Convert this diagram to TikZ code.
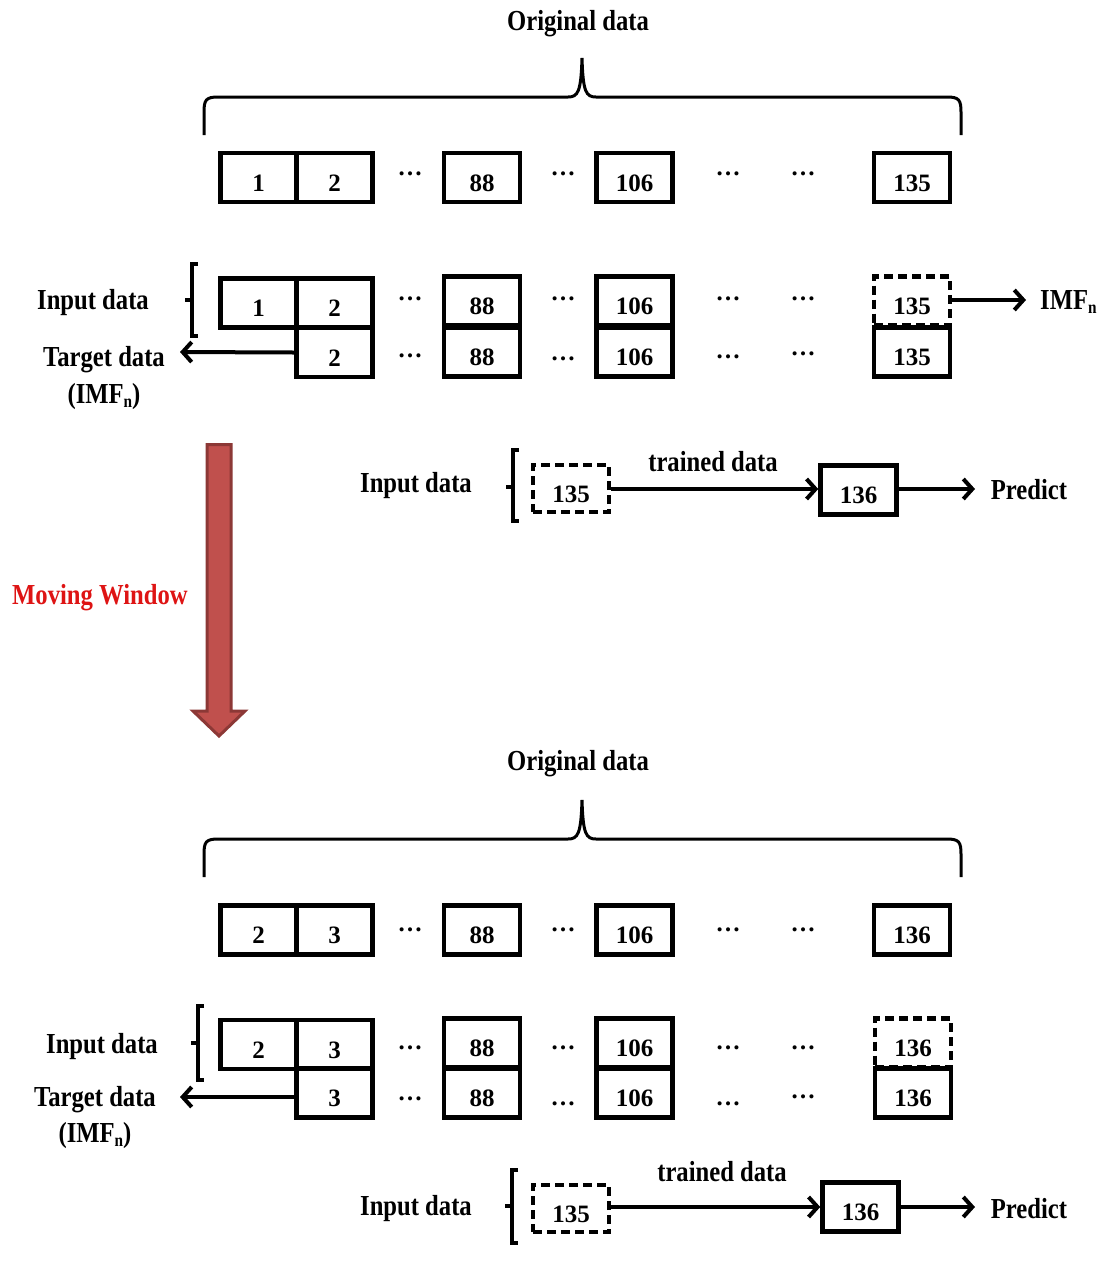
\documentclass[tikz,border=0pt]{standalone}
\usepackage{fontspec}
\setmainfont{Liberation Serif}
\newfontfamily\condfont{Liberation Serif}[FakeStretch=0.85]
\usetikzlibrary{arrows.meta}
\newcommand\lblfont{\condfont\bfseries\fontsize{29}{32}\selectfont}
\newcommand\numfont{\bfseries\fontsize{25}{28}\selectfont}
\newcommand\imfn{IMF\raisebox{-4pt}{\fontsize{18}{18}\selectfont n}}
\definecolor{mwred}{RGB}{222,20,20}
\definecolor{arrfill}{RGB}{192,80,77}
\definecolor{arrline}{RGB}{140,56,54}
\tikzset{
  lbl/.style={font=\lblfont, inner sep=0pt},
  cell/.style={draw, line width=4.5pt, minimum width=76pt, minimum height=49pt, inner sep=0pt, font=\numfont, text height=27pt, text depth=0pt},
  dcell/.style={cell, dash pattern=on 9pt off 5pt},
  dots/.style={font=\numfont, inner sep=0pt, anchor=base},
  brace/.style={line width=3pt},
  brk/.style={line width=3.5pt},
  conn/.style={line width=4pt, -{Straight Barb[length=9pt,width=20pt]}},
}
\begin{document}
\begin{tikzpicture}[x=1pt,y=-1pt]
\useasboundingbox (0,0) rectangle (1110,1278);

% ================= TOP =================
\node[lbl] (od1) at (578,24) {Original data};
\draw[brace] (204,135) -- (204,112) .. controls (204,100) and (206,97) .. (218,97) -- (568,97) .. controls (578,97) and (581,92) .. (582,58) .. controls (583,92) and (586,97) .. (596,97) -- (947,97) .. controls (959,97) and (961,100) .. (961,112) -- (961,135);

% row 1
\node[cell] (a1)   at (258.5,177.5) {1};
\node[cell] (a2)   at (334.5,177.5) {2};
\node[cell] (a88)  at (482,177.5) {88};
\node[cell] (a106) at (634.5,177.5) {106};
\node[cell] (a135) at (912,177.5) {135};
\node[dots] (ad1) at (410,175) {\dots};
\node[dots] (ad2) at (563,175) {\dots};
\node[dots] (ad3) at (728,175) {\dots};
\node[dots] (ad4) at (803,175) {\dots};

% input / target rows
\node[cell] (i1)   at (258.5,303) {1};
\node[cell] (i2)   at (334.5,303) {2};
\node[cell] (i88)  at (482,301) {88};
\node[cell] (i106) at (634.5,301) {106};
\node[dcell] (i135) at (912,301) {135};
\node[cell] (g2)   at (334.5,352.5) {2};
\node[cell] (g88)  at (482,352) {88};
\node[cell] (g106) at (634.5,352) {106};
\node[cell] (g135) at (912,352) {135};
\node[dots] (id1) at (410,300) {\dots};
\node[dots] (id2) at (563,300) {\dots};
\node[dots] (id3) at (728,300) {\dots};
\node[dots] (id4) at (803,300) {\dots};
\node[dots] (gd1) at (410,357) {\dots};
\node[dots] (gd2) at (563,360) {\dots};
\node[dots] (gd3) at (728,358) {\dots};
\node[dots] (gd4) at (803,355) {\dots};

\draw[brk] (198,264) -- (192,264) -- (192,336) -- (198,336);
\draw[brk] (192,300) -- (185,300);
\node[lbl] (inp1) at (93,303) {Input data};
\node[lbl] (tgt1) at (104,360) {Target data};
\node[lbl] (imf1) at (104,397) {(\imfn)};
\coordinate (tgtend1) at (180,352);
\draw[conn] (g2.west) -- (tgtend1);
\coordinate (imfend1) at (1026,300);
\draw[conn] (i135.east |- imfend1) -- (imfend1);
\node[lbl, anchor=west] (imfo1) at (1040,302) {\imfn};

% predict row (top)
\node[lbl] (pin1) at (416,486) {Input data};
\draw[brk] (519,450) -- (513,450) -- (513,521) -- (519,521);
\draw[brk] (513,487) -- (506,487);
\node[dcell, minimum height=47pt] (p135a) at (571,488.5) {135};
\node[cell] (p136a) at (858.5,490) {136};
\node[lbl] (tr1) at (713,462) {trained data};
\draw[conn] (p135a.east |- 0,489) -- (p136a.west |- 0,489);
\coordinate (predend1) at (975,489);
\draw[conn] (p136a.east |- predend1) -- (predend1);
\node[lbl] (pr1) at (1029,490) {Predict};

% moving window arrow
\draw[line width=3pt, draw=arrline, fill=arrfill, line join=miter]
  (207,444.5) -- (231,444.5) -- (231,711) -- (245,711) -- (219,736) -- (193,711) -- (207,711) -- cycle;
\node[lbl, text=mwred] (mw) at (100,598) {Moving Window};

% ================= BOTTOM =================
\node[lbl] (od2) at (578,764) {Original data};
\draw[brace] (204,877) -- (204,854) .. controls (204,842) and (206,839) .. (218,839) -- (568,839) .. controls (578,839) and (581,834) .. (582,800) .. controls (583,834) and (586,839) .. (596,839) -- (947,839) .. controls (959,839) and (961,842) .. (961,854) -- (961,877);

\node[cell] (b2)   at (258.5,930) {2};
\node[cell] (b3)   at (334.5,930) {3};
\node[cell] (b88)  at (482,930) {88};
\node[cell] (b106) at (634.5,930) {106};
\node[cell] (b136) at (912,930) {136};
\node[dots] (bd1) at (410,931) {\dots};
\node[dots] (bd2) at (563,931) {\dots};
\node[dots] (bd3) at (728,931) {\dots};
\node[dots] (bd4) at (803,931) {\dots};

\node[cell] (j2)   at (258.5,1044.5) {2};
\node[cell] (j3)   at (334.5,1044.5) {3};
\node[cell] (j88)  at (482,1043) {88};
\node[cell] (j106) at (634.5,1043) {106};
\node[dcell] (j136) at (913,1043) {136};
\node[cell] (h3)   at (334.5,1093) {3};
\node[cell] (h88)  at (482,1093) {88};
\node[cell] (h106) at (634.5,1093) {106};
\node[cell] (h136) at (913,1093) {136};
\node[dots] (jd1) at (410,1049) {\dots};
\node[dots] (jd2) at (563,1049) {\dots};
\node[dots] (jd3) at (728,1049) {\dots};
\node[dots] (jd4) at (803,1049) {\dots};
\node[dots] (hd1) at (410,1100) {\dots};
\node[dots] (hd2) at (563,1105) {\dots};
\node[dots] (hd3) at (728,1105) {\dots};
\node[dots] (hd4) at (803,1098) {\dots};

\draw[brk] (204,1006) -- (198,1006) -- (198,1080) -- (204,1080);
\draw[brk] (198,1043) -- (191,1043);
\node[lbl] (inp2) at (102,1047) {Input data};
\node[lbl] (tgt2) at (95,1100) {Target data};
\node[lbl] (imf2) at (95,1136) {(\imfn)};
\coordinate (tgtend2) at (180,1097);
\draw[conn] (h3.west |- tgtend2) -- (tgtend2);

\node[lbl] (pin2) at (416,1209) {Input data};
\draw[brk] (518,1170) -- (512,1170) -- (512,1243) -- (518,1243);
\draw[brk] (512,1206) -- (505,1206);
\node[dcell, minimum height=47pt] (p135b) at (571,1208.5) {135};
\node[cell] (p136b) at (860.5,1207) {136};
\node[lbl] (tr2) at (722,1172) {trained data};
\draw[conn] (p135b.east |- 0,1207) -- (p136b.west |- 0,1207);
\coordinate (predend2) at (975,1207);
\draw[conn] (p136b.east |- predend2) -- (predend2);
\node[lbl] (pr2) at (1029,1209) {Predict};
\end{tikzpicture}
\end{document}
